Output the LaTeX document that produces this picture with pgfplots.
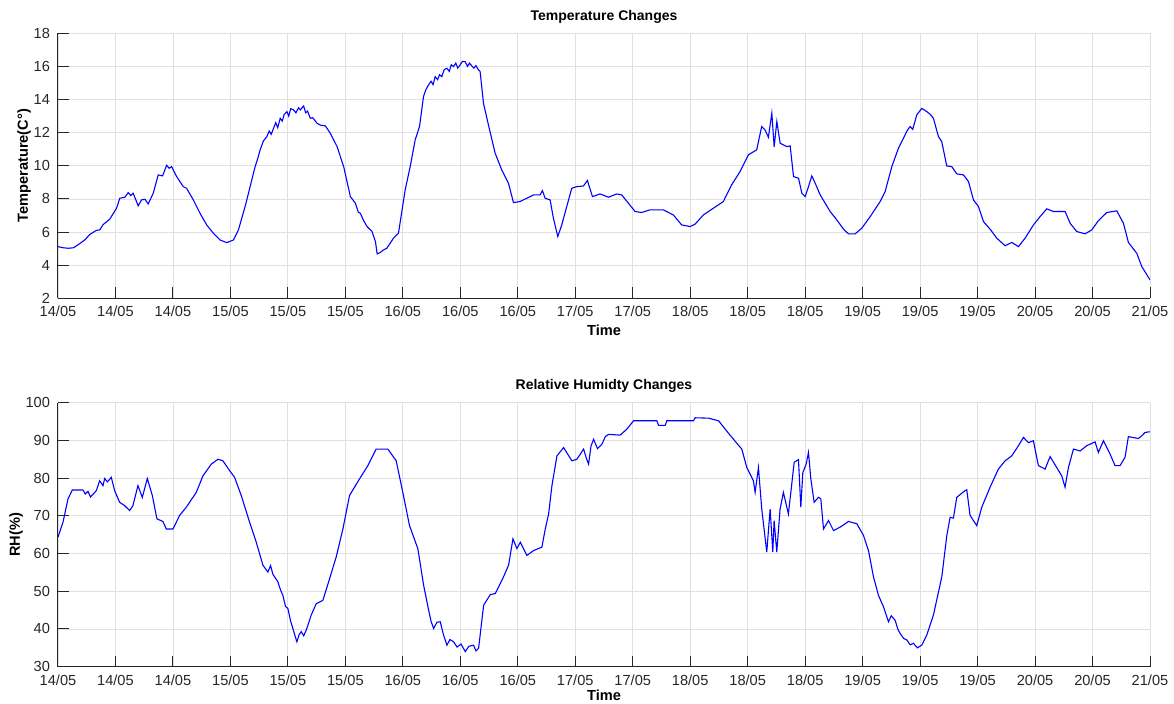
\documentclass[border=0pt]{standalone}
\usepackage{pgfplots}
\pgfplotsset{compat=1.18}
\usepackage{pgfplotstable}
\usepackage{fontspec}
\setmainfont{Liberation Sans}

\pgfplotstableread{
h T
0 5.12
0.8 5.05
1.6 5.02
2.4 5.05
3.34 5.30
4.2 5.55
4.88 5.85
5.91 6.10
6.43 6.13
6.94 6.45
7.97 6.78
9.0 7.43
9.51 8.04
10.28 8.10
10.8 8.38
11.2 8.2
11.57 8.34
12.34 7.58
12.85 7.94
13.37 7.98
13.88 7.70
14.65 8.34
15.42 9.45
16.09 9.39
16.71 10.03
17.1 9.85
17.48 9.95
18.25 9.35
19.28 8.74
19.79 8.64
20.82 7.94
21.85 7.13
22.88 6.43
23.9 5.93
24.93 5.52
25.96 5.36
26.99 5.52
27.76 6.13
28.79 7.54
29.56 8.74
30.33 9.95
30.7 10.4
31.1 10.96
31.6 11.5
32.13 11.76
32.5 12.1
32.8 11.9
33.16 12.26
33.5 12.6
33.8 12.3
34.19 12.87
34.5 12.7
34.8 13.1
35.22 13.27
35.5 13.0
35.8 13.45
36.24 13.37
36.6 13.2
37.0 13.5
37.27 13.37
37.79 13.61
38.1 13.2
38.4 13.3
38.81 12.87
39.2 12.9
39.84 12.57
40.4 12.45
41.13 12.41
41.9 11.96
42.93 11.16
43.95 9.95
44.98 8.14
45.75 7.74
46.2 7.2
46.52 7.13
47.0 6.7
47.55 6.33
48.32 6.03
48.84 5.42
49.1 4.68
49.56 4.76
50.0 4.9
50.59 5.02
51.61 5.63
52.38 5.93
52.9 7.24
53.41 8.54
54.18 9.95
54.95 11.56
55.62 12.37
56.23 14.18
56.6 14.6
57.0 14.88
57.4 15.1
57.7 14.9
58.03 15.38
58.4 15.2
58.7 15.5
59.05 15.38
59.4 15.8
59.82 15.89
60.2 15.7
60.5 16.1
60.84 15.99
61.2 16.2
61.5 15.9
61.87 16.09
62.2 16.3
62.64 16.29
63.0 16.0
63.3 16.2
63.66 16.03
64.0 15.9
64.3 16.05
64.69 15.79
64.94 15.69
65.46 13.77
66.22 12.47
67.25 10.76
68.27 9.75
69.3 8.95
70.07 7.78
71.09 7.84
72.12 8.04
73.14 8.24
74.17 8.24
74.53 8.50
74.94 8.04
75.71 7.94
76.22 6.83
76.89 5.73
77.5 6.43
78.27 7.54
79.04 8.64
79.81 8.74
80.83 8.78
81.45 9.11
82.22 8.14
83.4 8.30
84.68 8.10
85.96 8.30
86.73 8.24
87.75 7.74
88.78 7.24
89.8 7.18
91.08 7.34
93.13 7.34
94.67 7.03
95.95 6.43
97.24 6.33
98.0 6.47
99.29 7.03
100.83 7.44
102.36 7.84
103.64 8.85
104.93 9.65
106.21 10.66
107.49 10.96
108.26 12.37
108.77 12.17
109.29 11.72
109.82 13.17
110.18 11.15
110.59 12.67
111.1 11.36
112.13 11.16
112.64 11.2
113.16 9.35
113.93 9.25
114.44 8.34
114.95 8.14
115.46 8.74
115.97 9.39
116.49 8.95
117.26 8.24
118.03 7.74
118.79 7.24
119.82 6.73
120.85 6.17
121.61 5.89
122.64 5.89
123.66 6.23
124.95 6.93
126.48 7.84
127.25 8.44
128.28 9.95
129.3 11.06
130.07 11.66
130.6 12.1
131.1 12.37
131.5 12.2
132.12 13.07
132.89 13.47
133.66 13.27
134.2 13.1
134.68 12.87
135.45 11.76
135.96 11.46
136.73 9.99
137.5 9.95
138.27 9.51
139.3 9.45
140.07 9.05
140.84 7.94
141.61 7.54
142.38 6.63
143.4 6.17
144.43 5.63
145.71 5.17
146.74 5.37
147.76 5.12
148.79 5.63
150.07 6.43
151.09 6.93
152.12 7.40
153.14 7.24
154.17 7.24
154.94 7.24
155.71 6.53
156.73 6.03
158.01 5.89
159.04 6.13
160.07 6.69
161.35 7.18
162.89 7.28
163.91 6.53
164.68 5.37
165.96 4.72
166.73 3.92
168.0 3.11
}\temptable

\pgfplotstableread{
h RH
0 64.35
0.77 68.3
1.54 74.5
2.2 76.85
3.84 76.85
4.2 75.8
4.61 76.5
5.0 75.0
5.38 75.7
5.9 76.7
6.41 79.3
6.92 78.0
7.18 79.9
7.6 79.0
8.2 80.2
8.71 76.7
9.48 73.6
10.25 72.7
11.02 71.4
11.53 72.7
12.3 78.0
12.97 74.9
13.74 79.9
14.51 75.4
15.22 69.2
16.15 68.5
16.66 66.5
17.68 66.5
18.71 70.1
19.74 72.3
21.27 76.2
22.3 80.6
23.58 83.7
24.61 85.0
25.37 84.6
26.4 82.0
27.17 80.2
28.19 75.4
29.48 68.3
30.5 63.0
31.53 56.9
32.29 55.1
32.7 56.8
33.06 54.5
33.83 52.5
34.2 50.5
34.6 48.9
35.0 46.0
35.37 45.4
35.8 42.0
36.14 40.1
36.5 38.0
36.75 36.6
37.1 38.5
37.42 39.3
37.8 38.2
38.19 39.7
38.96 43.7
39.73 46.7
40.75 47.6
41.78 53.3
42.8 59.1
43.83 66.5
44.85 75.4
46.39 79.8
47.67 83.3
48.95 87.7
50.75 87.7
52.03 84.6
53.05 76.2
54.08 67.4
55.36 61.3
56.25 51.6
57.02 45.0
57.4 42.0
57.79 40.1
58.3 41.8
58.81 41.9
59.3 38.5
59.84 35.7
60.3 37.2
60.86 36.6
61.4 35.2
62.0 36.0
62.66 34.0
63.2 35.4
63.94 35.7
64.3 34.2
64.71 34.9
65.48 46.3
66.5 49.1
67.27 49.4
68.3 52.9
69.32 56.9
69.99 63.9
70.6 61.3
71.12 63.0
72.14 59.5
73.17 60.8
74.45 61.7
74.96 66.5
75.48 70.5
75.99 78.0
76.76 85.9
77.78 88.1
79.06 84.6
79.83 85.0
80.86 87.7
81.3 85.2
81.63 83.7
82.0 88.5
82.4 90.3
83.0 87.8
83.68 89.0
84.2 91.0
84.7 91.6
86.5 91.4
87.52 93.0
88.55 95.2
92.13 95.2
92.39 94.0
93.42 94.0
93.67 95.2
97.77 95.2
98.03 96.0
100.08 95.9
101.62 95.2
102.64 93.0
103.92 90.3
105.2 87.7
105.97 82.8
106.99 79.3
107.25 76.2
107.76 82.8
108.27 71.8
109.04 60.4
109.56 71.8
109.97 60.4
110.17 68.75
110.58 60.4
111.09 71.8
111.6 76.2
112.37 70.5
113.26 84.2
113.92 84.9
114.28 72.3
114.59 81.5
115.1 83.7
115.46 86.8
115.82 79.8
116.33 73.6
117.0 74.9
117.36 74.5
117.77 66.5
118.54 68.75
119.31 66.1
120.33 67.0
121.61 68.5
122.9 67.9
123.92 64.8
124.69 60.8
125.46 53.8
126.23 48.9
126.99 45.9
127.76 41.9
128.2 43.5
128.79 42.3
129.2 40.0
129.56 38.8
130.1 37.5
130.58 37.1
131.1 35.8
131.61 36.2
132.2 35.0
132.89 35.7
133.66 38.4
134.68 43.7
135.97 53.8
136.74 64.8
137.25 69.6
137.76 69.4
138.27 74.9
139.56 76.7
139.81 76.9
140.32 70.1
141.35 67.4
142.12 72.3
143.4 77.6
144.68 82.4
145.71 84.6
146.73 85.9
147.76 88.6
148.53 90.8
149.3 89.4
150.06 89.9
150.83 83.3
151.86 82.4
152.63 85.7
153.65 82.8
154.42 80.6
154.93 77.6
155.45 82.8
156.22 87.7
157.24 87.2
158.27 88.6
159.55 89.6
160.06 86.8
160.83 89.9
161.85 86.4
162.62 83.3
163.39 83.3
164.16 85.5
164.67 91.0
166.21 90.5
166.72 91.2
167.23 92.1
167.96 92.3
}\rhtable

\definecolor{axcol}{gray}{0.15}
\definecolor{gridcol}{gray}{0.88}

\pgfplotsset{
  myaxis/.style={
    scale only axis,
    width=546pt,
    axis lines=left,
    axis line style={-, axcol, line width=0.5pt},
    xmin=0, xmax=168,
    xtick={0,8.8421,17.6842,26.5263,35.3684,44.2105,53.0526,61.8947,70.7368,79.5789,88.4211,97.2632,106.1053,114.9474,123.7895,132.6316,141.4737,150.3158,159.1579,168},
    xticklabels={14/05,14/05,14/05,15/05,15/05,15/05,16/05,16/05,16/05,17/05,17/05,18/05,18/05,18/05,19/05,19/05,19/05,20/05,20/05,21/05},
    grid=major,
    major grid style={gridcol, line width=0.4pt},
    tick align=inside,
    major tick length=5.5pt,
    tick style={axcol, line width=0.5pt},
    ticklabel style={font=\fontsize{7.3}{8}\selectfont, text=axcol},
    /pgf/number format/assume math mode=true,
    xlabel={Time},
    every axis x label/.style={at={(axis description cs:0.5,0)}, anchor=center, yshift=-16pt, font=\fontsize{7.3}{8}\selectfont\bfseries},
    every axis y label/.style={at={(axis description cs:0,0.5)}, rotate=90, anchor=center, font=\fontsize{7.3}{8}\selectfont\bfseries},
    every axis title/.style={at={(axis description cs:0.5,1)}, anchor=center, yshift=8.3pt, font=\fontsize{7}{8}\selectfont\bfseries},
    xticklabel style={yshift=-0.5pt},
    yticklabel style={xshift=-0.5pt},
  }
}

\begin{document}
\begin{tikzpicture}
\useasboundingbox (-29pt,-18.65pt) rectangle (558pt,333.35pt);
\begin{axis}[myaxis,
  at={(0,184.2pt)}, anchor=south west,
  height=132.5pt,
  ymin=2, ymax=18, ytick={2,4,...,18},
  ylabel={Temperature(C°)},
  ylabel style={yshift=17pt},
  title={Temperature Changes}]
\addplot[blue, line width=0.55pt] table[x=h, y=T] {\temptable};
\end{axis}
\begin{axis}[myaxis,
  at={(0,0)}, anchor=south west,
  height=132pt,
  ymin=30, ymax=100, ytick={30,40,...,100},
  ylabel={RH(\%)},
  ylabel style={yshift=21pt},
  xlabel style={yshift=1.5pt},
  title={Relative Humidty Changes}]
\addplot[blue, line width=0.55pt] table[x=h, y=RH] {\rhtable};
\end{axis}
\end{tikzpicture}
\end{document}
